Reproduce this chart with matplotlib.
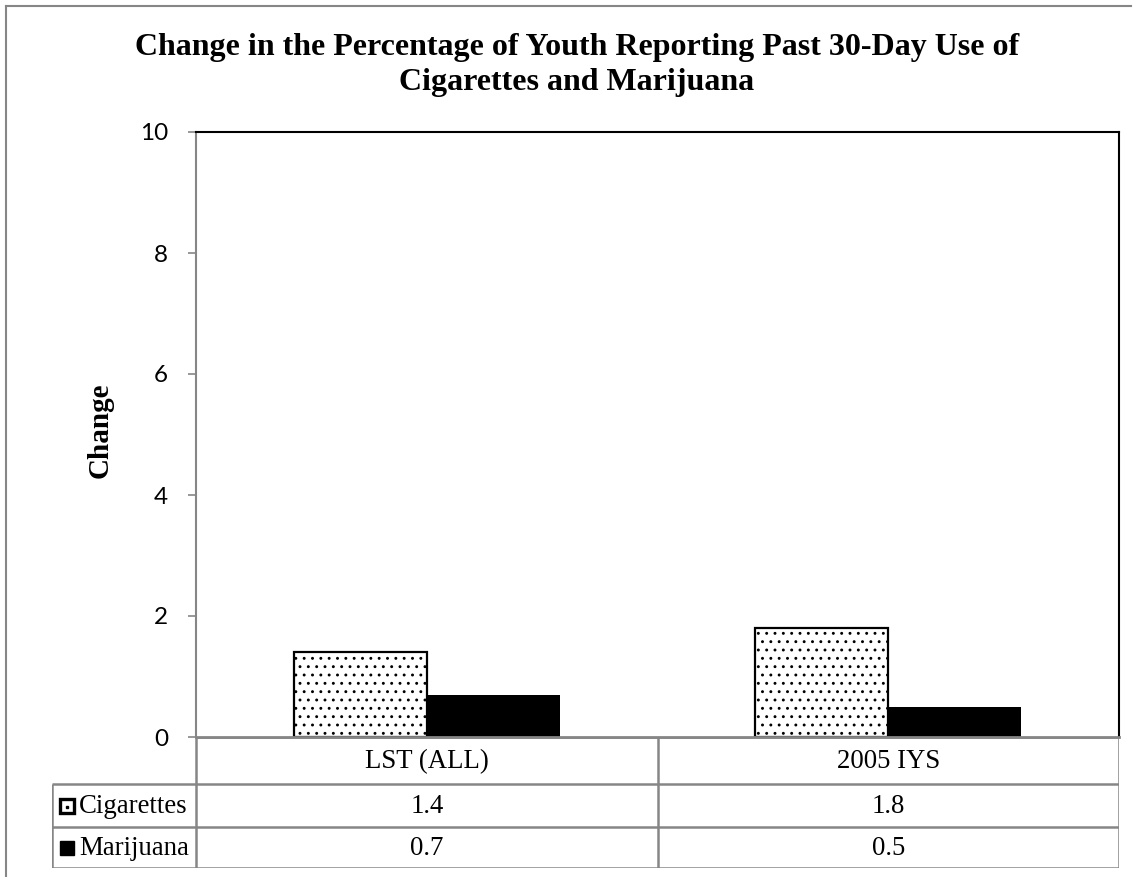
import numpy as np
import matplotlib.pyplot as plt
from matplotlib.patches import Rectangle
from matplotlib.lines import Line2D

# Data
categories = ['LST (ALL)', '2005 IYS']
series_names = ['Cigarettes', 'Marijuana']
cigarettes = [1.4, 1.8]
marijuana = [0.7, 0.5]
yticks = [0, 2, 4, 6, 8, 10]

W, H = 1138, 877
GRAY = '#868686'
plt.rcParams['hatch.linewidth'] = 0.9

fig = plt.figure(figsize=(W / 100, H / 100), dpi=100)


def fx(px):
    return px / W


def fy(py):
    return 1 - py / H


# outer frame (only top and left visible, image is cropped)
fig.add_artist(Line2D([fx(6), fx(1131)], [fy(6), fy(6)], color=GRAY, lw=1.5))
fig.add_artist(Line2D([fx(6), fx(6)], [fy(6), fy(877)], color=GRAY, lw=1.5))

# title
fig.text(fx(577), fy(65), 'Change in the Percentage of Youth Reporting Past 30-Day Use of\nCigarettes and Marijuana',
         ha='center', va='center', fontsize=23, fontweight='bold',
         family='Liberation Serif', linespacing=1.3)

# main plot area
left, right, top, bottom = 196, 1119, 132, 737
ax = fig.add_axes([fx(left), fy(bottom), fx(right - left), (bottom - top) / H])
x = np.arange(len(categories))
w = 0.288
ax.bar(x - w / 2, cigarettes, w, color='white', edgecolor='black', hatch='..', linewidth=1.6)
ax.bar(x + w / 2, marijuana, w, color='black', edgecolor='black', linewidth=0)
ax.set_xlim(-0.5, 1.5)
ax.set_ylim(0, 10)
ax.set_yticks(yticks)
ax.set_yticklabels([str(t) for t in yticks], family='Lato', fontsize=17.5)
ax.set_xticks([])
ax.tick_params(axis='y', direction='out', length=6, width=1.2, color=GRAY, pad=14)
ax.spines['left'].set_color(GRAY)
ax.spines['left'].set_linewidth(1.5)
ax.spines['bottom'].set_color(GRAY)
ax.spines['bottom'].set_linewidth(2)
ax.spines['top'].set_linewidth(1.5)
ax.spines['right'].set_linewidth(1.5)
ax.set_ylabel('Change', family='Liberation Serif', fontweight='bold', fontsize=21, va='center')
ax.yaxis.set_label_coords((100 - left) / (right - left), (bottom - 430) / (bottom - top))

# data table below the plot
tleft, tbottom = 52, 868
row_y = [737, 784, 827, 868]
tab = fig.add_axes([fx(tleft), fy(tbottom), fx(right - tleft), (tbottom - bottom) / H])
x0 = -0.5 - (left - tleft) / ((right - left) / 2)
tab.set_xlim(x0, 1.5)
tab.set_ylim(row_y[-1], row_y[0])
tab.axis('off')

lc = dict(color=GRAY, lw=1.8, solid_capstyle='butt')
# horizontal lines
tab.plot([-0.5, 1.5], [row_y[0], row_y[0]], **lc)
for yy in row_y[1:]:
    tab.plot([x0, 1.5], [yy, yy], **lc)
# vertical lines
tab.plot([x0, x0], [row_y[1], row_y[-1]], **lc)
tab.plot([-0.5, -0.5], [row_y[0], row_y[-1]], **lc)
tab.plot([0.5, 0.5], [row_y[0], row_y[-1]], **lc)
tab.plot([1.5, 1.5], [row_y[0], row_y[-1]], **lc)

tfont = dict(family='Liberation Serif', fontsize=19.3, va='center')
for i, c in enumerate(categories):
    tab.text(x[i], (row_y[0] + row_y[1]) / 2 + 1, c, ha='center', **tfont)

values = [cigarettes, marijuana]
for r, name in enumerate(series_names):
    yc = (row_y[r + 1] + row_y[r + 2]) / 2 + 1
    for i in range(len(categories)):
        tab.text(x[i], yc, f'{values[r][i]:.1f}', ha='center', **tfont)
    tab.text(x0 + 0.058, yc, name, ha='left', **tfont)

# legend keys inside the table
unit = (right - left) / 2
ks = 14 / unit
k_h = 14
y1 = (row_y[1] + row_y[2]) / 2
y2 = (row_y[2] + row_y[3]) / 2
tab.add_patch(Rectangle((x0 + 8 / unit, y1 - k_h / 2), ks, k_h, facecolor='white', edgecolor='black', lw=2.4))
tab.plot([x0 + 8 / unit + ks / 2], [y1 + 1], 's', color='black', ms=2)
tab.add_patch(Rectangle((x0 + 8 / unit, y2 - k_h / 2), ks, k_h, facecolor='black', edgecolor='black', lw=1))

plt.savefig('out.png', dpi=100)
